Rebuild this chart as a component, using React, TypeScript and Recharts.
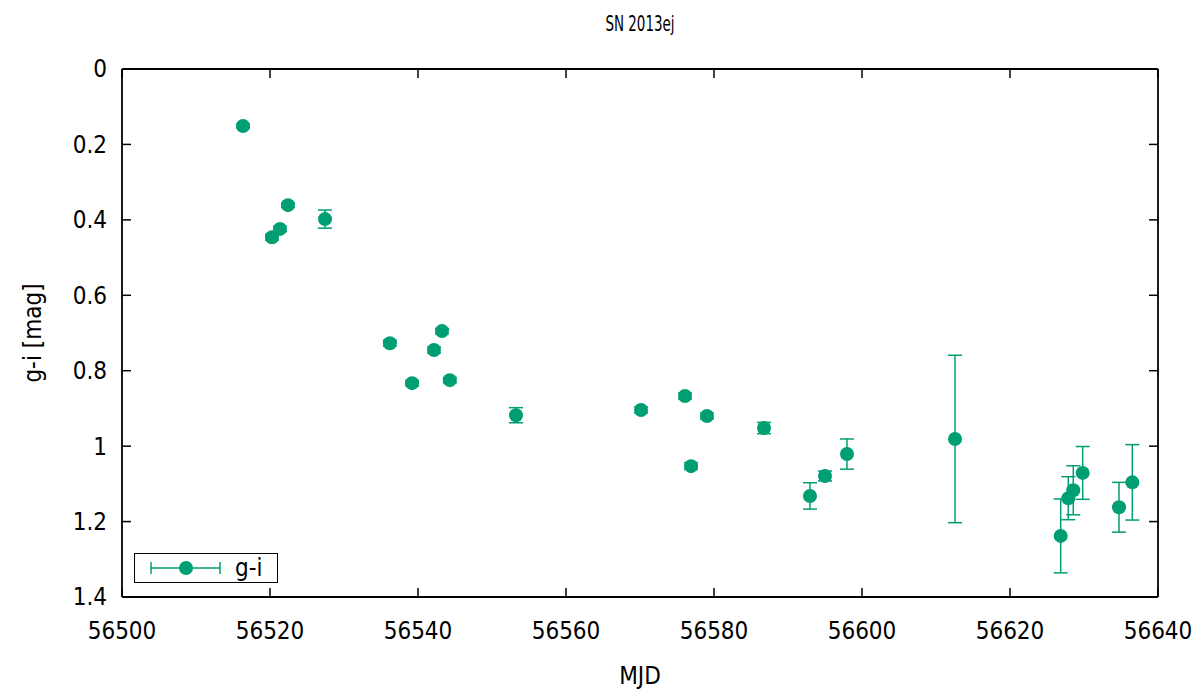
import { ScatterChart, Scatter, XAxis, YAxis, ErrorBar } from "recharts";

const mjd = [
  56516.35, 56520.27, 56521.35, 56522.43, 56527.43, 56536.2, 56539.2, 56542.16,
  56543.24, 56544.3, 56553.24, 56570.14, 56576.08, 56576.9, 56579.05, 56586.76,
  56592.97, 56595.0, 56597.97, 56612.57, 56626.85, 56627.88, 56628.55, 56629.82,
  56634.73, 56636.53,
];
const gi = [
  0.151, 0.446, 0.424, 0.361, 0.398, 0.727, 0.833, 0.745, 0.695, 0.825, 0.918,
  0.904, 0.867, 1.053, 0.92, 0.952, 1.132, 1.079, 1.021, 0.981, 1.238, 1.138,
  1.117, 1.071, 1.162, 1.096,
];
const giErr = [
  0.005, 0.008, 0.007, 0.006, 0.024, 0.008, 0.007, 0.008, 0.007, 0.007, 0.02,
  0.008, 0.008, 0.009, 0.008, 0.015, 0.035, 0.013, 0.04, 0.222, 0.098, 0.057,
  0.065, 0.07, 0.066, 0.1,
];
const xTicks = [56500, 56520, 56540, 56560, 56580, 56600, 56620, 56640];
const yTicks = [0, 0.2, 0.4, 0.6, 0.8, 1, 1.2, 1.4];

const data = mjd.map((m, i) => ({ mjd: m, gi: gi[i], err: giErr[i] }));

const GREEN = "#009e73";
const FONT = "'DejaVu Sans Condensed', 'Open Sans', sans-serif";
const TICK_LEN = 9;

function BottomTick({ x, y, payload }: any) {
  return (
    <g>
      <line x1={x} y1={y} x2={x} y2={y - TICK_LEN} stroke="#000" strokeWidth={1.5} />
      <text x={x} y={y + 42} textAnchor="middle" fontSize={24} fontFamily={FONT} fill="#000">
        {payload.value}
      </text>
    </g>
  );
}

function TopTick({ x, y }: any) {
  return <line x1={x} y1={y} x2={x} y2={y + TICK_LEN} stroke="#000" strokeWidth={1.5} />;
}

function LeftTick({ x, y, payload }: any) {
  return (
    <g>
      <line x1={x} y1={y} x2={x + TICK_LEN} y2={y} stroke="#000" strokeWidth={1.5} />
      <text x={x - 15} y={y} dy="0.35em" textAnchor="end" fontSize={24} fontFamily={FONT} fill="#000">
        {String(payload.value)}
      </text>
    </g>
  );
}

function RightTick({ x, y }: any) {
  return <line x1={x} y1={y} x2={x - TICK_LEN} y2={y} stroke="#000" strokeWidth={1.5} />;
}

function LegendBox() {
  return (
    <div
      style={{
        position: "absolute",
        left: 134,
        top: 553,
        width: 142,
        height: 28,
        border: "1.5px solid #000",
        background: "#fff",
        display: "flex",
        alignItems: "center",
      }}
    >
      <svg width={100} height={28}>
        <line x1={16} y1={14} x2={85} y2={14} stroke={GREEN} strokeWidth={1.5} />
        <line x1={16} y1={8} x2={16} y2={20} stroke={GREEN} strokeWidth={1.5} />
        <line x1={85} y1={8} x2={85} y2={20} stroke={GREEN} strokeWidth={1.5} />
        <circle cx={51} cy={14} r={7} fill={GREEN} />
      </svg>
      <span style={{ fontFamily: FONT, fontSize: 24, lineHeight: "28px", color: "#000" }}>g-i</span>
    </div>
  );
}

export default function App() {
  return (
    <div style={{ position: "absolute", left: 0, top: 0, width: 1199, height: 692, background: "#fff" }}>
      <div
        style={{
          position: "absolute",
          left: 122,
          width: 1036,
          top: 11,
          textAlign: "center",
          fontFamily: FONT,
          fontSize: 22,
          color: "#000",
          transform: "scaleX(0.68)",
        }}
      >
        SN 2013ej
      </div>
      <ScatterChart width={1199} height={692} margin={{ top: 68, right: 40, bottom: 0, left: 0 }}>
        <XAxis
          xAxisId="b"
          dataKey="mjd"
          type="number"
          domain={[56500, 56640]}
          ticks={xTicks}
          allowDataOverflow
          height={95}
          tickSize={0}
          tickMargin={0}
          tickLine={false}
          axisLine={{ stroke: "#000", strokeWidth: 1.8 }}
          tick={BottomTick}
          interval={0}
          label={{ value: "MJD", position: "insideBottom", offset: 8, fontSize: 24, fontFamily: FONT, fill: "#000" }}
        />
        <XAxis
          xAxisId="t"
          orientation="top"
          dataKey="mjd"
          type="number"
          domain={[56500, 56640]}
          ticks={xTicks}
          allowDataOverflow
          height={1}
          tickSize={0}
          tickMargin={0}
          tickLine={false}
          axisLine={{ stroke: "#000", strokeWidth: 1.8 }}
          tick={TopTick}
          interval={0}
        />
        <YAxis
          yAxisId="l"
          dataKey="gi"
          type="number"
          reversed
          domain={[0, 1.4]}
          ticks={yTicks}
          allowDataOverflow
          width={122}
          tickSize={0}
          tickMargin={0}
          tickLine={false}
          axisLine={{ stroke: "#000", strokeWidth: 1.8 }}
          tick={LeftTick}
          interval={0}
          label={({ viewBox }: any) => {
            const cx = viewBox.x + 33;
            const cy = viewBox.y + viewBox.height / 2;
            return (
              <text
                x={cx}
                y={cy}
                transform={`rotate(-90, ${cx}, ${cy})`}
                textAnchor="middle"
                dy="0.35em"
                fontSize={24}
                fontFamily={FONT}
                fill="#000"
              >
                g-i [mag]
              </text>
            );
          }}
        />
        <YAxis
          yAxisId="r"
          orientation="right"
          dataKey="gi"
          type="number"
          reversed
          domain={[0, 1.4]}
          ticks={yTicks}
          allowDataOverflow
          width={1}
          tickSize={0}
          tickMargin={0}
          tickLine={false}
          axisLine={{ stroke: "#000", strokeWidth: 1.8 }}
          tick={RightTick}
          interval={0}
        />
        <Scatter
          name="g-i"
          data={data}
          xAxisId="b"
          yAxisId="l"
          fill={GREEN}
          shape={(p: any) => <circle cx={p.cx} cy={p.cy} r={7} fill={GREEN} />}
          isAnimationActive={false}
        >
          <ErrorBar dataKey="err" direction="y" width={7} stroke={GREEN} strokeWidth={1.5} />
        </Scatter>
      </ScatterChart>
      <LegendBox />
    </div>
  );
}
